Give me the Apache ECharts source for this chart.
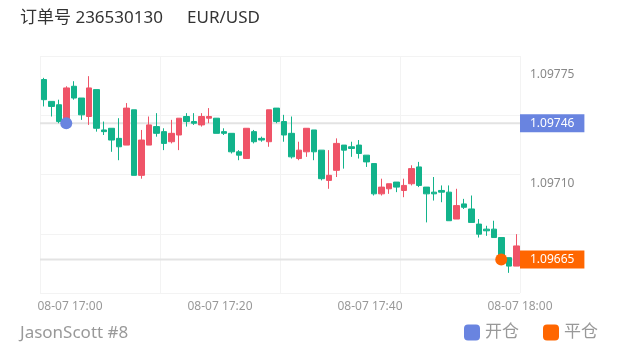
<!DOCTYPE html>
<html><head><meta charset="utf-8">
<script src="https://cdn.jsdelivr.net/npm/echarts@6/dist/echarts.min.js"></script>
<style>html,body{margin:0;padding:0;background:#fff}#c{width:620px;height:352px}</style>
</head><body><div id="c"></div>
<script>
const times = ['16:56','16:57','16:58','16:59','17:00','17:01','17:02','17:03','17:04','17:05','17:06','17:07','17:08','17:09','17:10','17:11',
'17:12','17:13','17:14','17:15','17:16','17:17','17:18','17:19','17:20','17:21','17:22','17:23','17:24','17:25','17:26','17:27',
'17:28','17:29','17:30','17:31','17:32','17:33','17:34','17:35','17:36','17:37','17:38','17:39','17:40','17:41','17:42','17:43',
'17:44','17:45','17:46','17:47','17:48','17:49','17:50','17:51','17:52','17:53','17:54','17:55','17:56','17:57','17:58','17:59'];
// [open, close, low, high]
const ohlc = [
[1.09772,1.09760,1.09756,1.09773],[1.09759,1.09756,1.09750,1.09759],[1.09757,1.09747,1.09746,1.09760],[1.09746,1.09767,1.09744,1.09768],
[1.09768,1.09761,1.09760,1.09771],[1.09761,1.09751,1.09748,1.09761],[1.09750,1.09767,1.09745,1.09774],[1.09766,1.09743,1.09741,1.09766],
[1.09742,1.09741,1.09739,1.09747],[1.09743,1.09736,1.09729,1.09743],[1.09737,1.09732,1.09724,1.09749],[1.09733,1.09755,1.09733,1.09758],
[1.09754,1.09715,1.09715,1.09754],[1.09715,1.09736,1.09713,1.09742],[1.09733,1.09745,1.09733,1.09750],[1.09744,1.09740,1.09738,1.09752],
[1.09741,1.09734,1.09730,1.09743],[1.09735,1.09740,1.09734,1.09748],[1.09739,1.09749,1.09730,1.09749],[1.09750,1.09747,1.09744,1.09752],
[1.09747,1.09746,1.09745,1.09752],[1.09745,1.09750,1.09744,1.09752],[1.09749,1.09750,1.09746,1.09755],[1.09749,1.09740,1.09740,1.09749],
[1.09741,1.09740,1.09739,1.09743],[1.09740,1.09729,1.09728,1.09740],[1.09729,1.09727,1.09724,1.09730],[1.09725,1.09743,1.09725,1.09743],
[1.09741,1.09735,1.09734,1.09742],[1.09737,1.09736,1.09735,1.09738],[1.09735,1.09754,1.09732,1.09754],[1.09755,1.09747,1.09746,1.09755],
[1.09747,1.09739,1.09735,1.09751],[1.09740,1.09726,1.09725,1.09750],[1.09725,1.09730,1.09724,1.09735],[1.09729,1.09743,1.09726,1.09743],
[1.09742,1.09729,1.09724,1.09742],[1.09730,1.09713,1.09712,1.09730],[1.09712,1.09715,1.09707,1.09730],[1.09718,1.09734,1.09714,1.09737],
[1.09733,1.09730,1.09719,1.09733],[1.09732,1.09731,1.09726,1.09735],[1.09733,1.09728,1.09725,1.09736],[1.09727,1.09723,1.09720,1.09727],
[1.09722,1.09704,1.09703,1.09722],[1.09704,1.09708,1.09703,1.09713],[1.09707,1.09710,1.09704,1.09710],[1.09711,1.09708,1.09705,1.09711],
[1.09706,1.09709,1.09702,1.09713],[1.09710,1.09719,1.09709,1.09721],[1.09720,1.09709,1.09708,1.09723],[1.09708,1.09704,1.09687,1.09708],
[1.09705,1.09704,1.09700,1.09714],[1.09706,1.09705,1.09699,1.09709],[1.09705,1.09688,1.09688,1.09709],[1.09689,1.09697,1.09689,1.09707],
[1.09698,1.09696,1.09695,1.09701],[1.09695,1.09687,1.09687,1.09703],[1.09686,1.09680,1.09678,1.09689],[1.09683,1.09682,1.09679,1.09685],
[1.09683,1.09678,1.09678,1.09688],[1.09678,1.09666,1.09665,1.09678],[1.09666,1.09661,1.09657,1.09666],[1.09661,1.09673,1.09661,1.09680]
];
const openTrade = [3, 1.09746];
const closeTrade = [61, 1.09665];
const yMin = 1.09645, yMax = 1.09786;
const yTickValues = [1.09710, 1.09775];
const xMinuteRange = [-4, 60];
const xTickMinutes = [0, 20, 40, 60];
const xTickLabels = ['08-07 17:00', '08-07 17:20', '08-07 17:40', '08-07 18:00'];

const FONT = "'Noto Sans', 'Noto Sans CJK SC', sans-serif";
const BLUE = '#6984E0', ORANGE = '#FF6600', UP = '#EF5468', DOWN = '#12B38B';

function priceLine(name, value, color) {
  return {
    type: 'line', name: name, xAxisIndex: 0, yAxisIndex: 0, z: 1, silent: true,
    data: [[xMinuteRange[0], value], [xMinuteRange[1], value]],
    symbol: 'none', lineStyle: {color: '#e3e3e3', width: 2, type: 'solid'},
    endLabel: {show: true, distance: 0, color: '#fff', fontSize: 12, fontFamily: FONT,
      padding: [3, 10, 3, 10], backgroundColor: color,
      formatter: () => value.toFixed(5)}
  };
}

const chart = echarts.init(document.getElementById('c'), null, {renderer: 'canvas'});
chart.setOption({
  animation: false,
  textStyle: {fontFamily: FONT},
  title: [
    {text: '订单号 236530130', left: 20, top: 10, padding: 0, textStyle: {fontSize: 17, fontWeight: 'normal', color: '#333', fontFamily: FONT}},
    {text: 'EUR/USD', left: 187, top: 10, padding: 0, textStyle: {fontSize: 17, fontWeight: 'normal', color: '#333', fontFamily: FONT}},
    {text: 'JasonScott #8', left: 20, bottom: 10, padding: 0, textStyle: {fontSize: 17, fontWeight: 'normal', color: '#999', fontFamily: FONT}}
  ],
  legend: {
    data: ['开仓', '平仓'], right: 22, bottom: 11, padding: 0, icon: 'roundRect',
    itemWidth: 16, itemHeight: 16, itemGap: 24,
    textStyle: {fontSize: 17, color: '#999', fontFamily: FONT}
  },
  grid: {left: 40, right: 100, top: 56, bottom: 59},
  xAxis: [
    {type: 'value', min: xMinuteRange[0], max: xMinuteRange[1], position: 'bottom',
     axisLine: {show: false}, axisTick: {show: false}, splitLine: {show: false},
     axisLabel: {customValues: xTickMinutes, color: '#999', fontSize: 12, margin: 8,
       formatter: v => { const i = xTickMinutes.indexOf(v); return i >= 0 ? xTickLabels[i] : ''; }}},
    {type: 'category', data: times, boundaryGap: true, position: 'top',
     axisLine: {show: false}, axisTick: {show: false}, axisLabel: {show: false}, splitLine: {show: false}},
    {type: 'value', min: 0, max: 4, interval: 1, position: 'top',
     axisLine: {show: false}, axisTick: {show: false}, axisLabel: {show: false},
     splitLine: {show: true, lineStyle: {color: '#f3f3f3', width: 1}}}
  ],
  yAxis: [
    {type: 'value', min: yMin, max: yMax, position: 'right',
     axisLine: {show: false}, axisTick: {show: false}, splitLine: {show: false},
     axisLabel: {customValues: yTickValues, color: '#888', fontSize: 12, margin: 10,
       formatter: v => v.toFixed(5)}},
    {type: 'value', min: 0, max: 4, interval: 1, position: 'left',
     axisLine: {show: false}, axisTick: {show: false}, axisLabel: {show: false},
     splitLine: {show: true, lineStyle: {color: '#f3f3f3', width: 1}}}
  ],
  series: [
    priceLine('openLine', openTrade[1], BLUE),
    priceLine('closeLine', closeTrade[1], ORANGE),
    {type: 'candlestick', name: 'K', xAxisIndex: 1, yAxisIndex: 0, data: ohlc, barWidth: '80%', z: 3,
     itemStyle: {color: UP, color0: DOWN, borderColor: UP, borderColor0: DOWN, borderWidth: 1}},
    {type: 'scatter', name: '开仓', xAxisIndex: 1, yAxisIndex: 0, data: [openTrade], symbolSize: 12, z: 10,
     itemStyle: {color: BLUE, opacity: 1}},
    {type: 'scatter', name: '平仓', xAxisIndex: 1, yAxisIndex: 0, data: [closeTrade], symbolSize: 12, z: 10,
     itemStyle: {color: ORANGE, opacity: 1}}
  ]
});
</script></body></html>
